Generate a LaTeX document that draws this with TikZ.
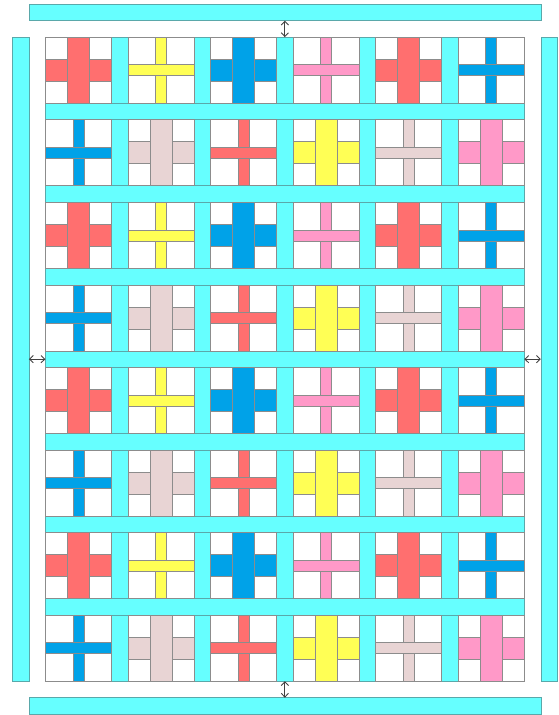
\documentclass[tikz,border=0pt]{standalone}
\usetikzlibrary{arrows.meta}

\definecolor{sashcyan}{HTML}{66FFFF}
\definecolor{sashedge}{HTML}{5AA8AA}
\definecolor{quiltred}{HTML}{FF6F6F}
\definecolor{quiltyellow}{HTML}{FFFF55}
\definecolor{quiltblue}{HTML}{00A2E8}
\definecolor{quiltpink}{HTML}{FF99C8}
\definecolor{quiltrose}{HTML}{E8D4D4}

\tikzset{
  sashing/.style = {fill = sashcyan, draw = sashedge, line width = 0.4pt},
  piece/.style = {draw = black!45, line width = 0.4pt},
  gap/.style = {<->, >={Straight Barb[length = 2.6pt, width = 5pt]}, draw = black!75, line width = 0.6pt}
}

% block with a wide cross, the long bar runs top to bottom
\newcommand{\widecross}[3]{
\begin{scope}[shift = {(#1,#2)}]
\fill[white] (0,0) rectangle (4,4);
\draw[piece, fill = #3] (0,4/3) rectangle (4,8/3);
\draw[piece, fill = #3] (4/3,0) rectangle (8/3,4);
\draw[piece] (0,0) rectangle (4,4);
\end{scope}
}

% block with a thin cross, the long bar runs left to right
\newcommand{\thincross}[3]{
\begin{scope}[shift = {(#1,#2)}]
\fill[white] (0,0) rectangle (4,4);
\draw[piece, fill = #3] (5/3,0) rectangle (7/3,4);
\draw[piece, fill = #3] (0,5/3) rectangle (4,7/3);
\draw[piece] (0,0) rectangle (4,4);
\end{scope}
}

\begin{document}
\begin{tikzpicture}[scale = 0.4, yscale = -1]
\useasboundingbox (-2.75,-2.25) rectangle (31.1,41.05);

% borders
\draw[sashing] (-1,-2) rectangle (30,-1);
\draw[sashing] (-1,40) rectangle (30,41);
\draw[sashing] (-2,0) rectangle (-1,39);
\draw[sashing] (30,0) rectangle (31,39);

% sashing between the blocks
\foreach \r in {0,...,7}
{
	\foreach \c in {1,...,5}
	{
		\draw[sashing] (\c*5-1, \r*5) rectangle (\c*5, \r*5+4);
	}
}
\foreach \r in {1,...,7}
{
	\draw[sashing] (0, \r*5-1) rectangle (29, \r*5);
}

% blocks
\foreach \r in {0,2,4,6}
{
	\foreach \c/\colour in {0/quiltred, 2/quiltblue, 4/quiltred}
		\widecross{\c*5}{\r*5}{\colour};
	\foreach \c/\colour in {1/quiltyellow, 3/quiltpink, 5/quiltblue}
		\thincross{\c*5}{\r*5}{\colour};
}
\foreach \r in {1,3,5,7}
{
	\foreach \c/\colour in {1/quiltrose, 3/quiltyellow, 5/quiltpink}
		\widecross{\c*5}{\r*5}{\colour};
	\foreach \c/\colour in {0/quiltblue, 2/quiltred, 4/quiltrose}
		\thincross{\c*5}{\r*5}{\colour};
}

% gaps
\coordinate (topgap1) at (14.5,-1);
\coordinate (topgap2) at (14.5,0);
\coordinate (botgap1) at (14.5,39);
\coordinate (botgap2) at (14.5,40);
\coordinate (leftgap1) at (-1,19.5);
\coordinate (leftgap2) at (0,19.5);
\coordinate (rightgap1) at (29,19.5);
\coordinate (rightgap2) at (30,19.5);
\draw[gap] (topgap1) -- (topgap2);
\draw[gap] (botgap1) -- (botgap2);
\draw[gap] (leftgap1) -- (leftgap2);
\draw[gap] (rightgap1) -- (rightgap2);
\end{tikzpicture}
\end{document}
